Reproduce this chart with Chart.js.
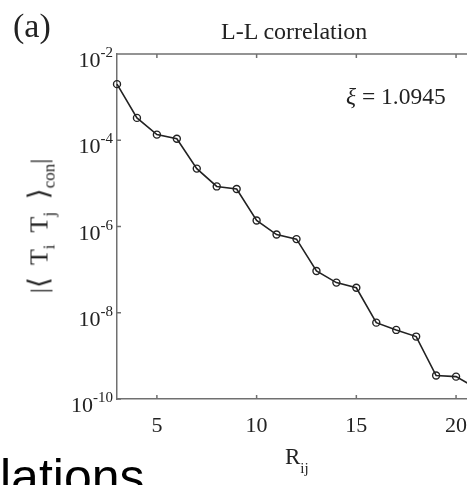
<!DOCTYPE html>
<html>
<head>
<meta charset="utf-8">
<script src="https://cdn.jsdelivr.net/npm/chart.js@4/dist/chart.umd.min.js"></script>
<style>
html,body{margin:0;padding:0;width:467px;height:485px;overflow:hidden;background:#fff;}
#wrap{position:absolute;left:0;top:0;width:490px;height:485px;}
.t{position:absolute;font-family:"Liberation Serif","Times New Roman",serif;color:#222;white-space:nowrap;line-height:1;}
#lbl{left:13px;top:9px;font-size:34px;}
#title{left:221px;top:19px;font-size:24px;}
#xi{left:346px;top:85px;font-size:23.5px;}
#xt{left:285px;top:445px;font-size:23px;}
#xt sub{font-size:15px;vertical-align:-9px;}
#yt{left:41px;top:226px;font-size:26px;transform:translate(-50%,-50%) rotate(-90deg);transform-origin:center;word-spacing:6px;}
#yt sub{font-size:17px;vertical-align:-7px;}
#yt .br{font-family:"DejaVu Serif",serif;font-weight:200;font-size:28px;}
#frag{position:absolute;left:0;top:452px;font-family:"Liberation Sans",Arial,sans-serif;font-size:50px;color:#000;line-height:1;}
</style>
</head>
<body>
<div id="wrap"><canvas id="c" width="490" height="485"></canvas></div>
<div class="t" id="lbl">(a)</div>
<div class="t" id="title">L-L correlation</div>
<div class="t" id="xi"><i>ξ</i> = 1.0945</div>
<div class="t" id="xt">R<sub>ij</sub></div>
<div class="t" id="yt">|<span class="br">⟨</span> T<sub>i</sub> T<sub>j</sub> <span class="br">⟩</span><sub>con</sub>|</div>
<div id="frag">lations</div>
<script>
const distances = [3,4,5,6,7,8,9,10,11,12,13,14,15,16,17,18,19,20,21];
const correlation = [2.0e-3,3.3e-4,1.35e-4,1.08e-4,2.2e-5,8.5e-6,7.4e-6,1.38e-6,6.5e-7,5.1e-7,9.3e-8,5.0e-8,3.8e-8,5.9e-9,4.0e-9,2.8e-9,3.5e-10,3.3e-10,1.8e-10];
const xTicks = [5,10,15,20];
const yTicks = [1e-10,1e-8,1e-6,1e-4,1e-2];

const axisColor = '#707070';
const textColor = '#222';

const framePlugin = {
  id:'frame',
  afterDraw(chart){
    const ctx = chart.ctx, a = chart.chartArea;
    const xs = chart.scales.x, ys = chart.scales.y;
    ctx.save();
    ctx.strokeStyle = axisColor; ctx.lineWidth = 1.5;
    ctx.beginPath();
    ctx.moveTo(a.left, a.top); ctx.lineTo(a.right+2, a.top);
    xTicks.forEach(v=>{
      const px = xs.getPixelForValue(v);
      ctx.moveTo(px, a.bottom); ctx.lineTo(px, a.bottom-4);
      ctx.moveTo(px, a.top); ctx.lineTo(px, a.top+4);
    });
    yTicks.forEach(v=>{
      const py = ys.getPixelForValue(v);
      ctx.moveTo(a.left, py); ctx.lineTo(a.left+4, py);
    });
    ctx.stroke();
    ctx.fillStyle = textColor;
    ctx.textBaseline = 'alphabetic';
    yTicks.forEach(v=>{
      const py = ys.getPixelForValue(v);
      const exp = String(Math.round(Math.log10(v)));
      ctx.font = '15px "Liberation Serif", serif';
      const ws = ctx.measureText(exp).width;
      ctx.font = '22px "Liberation Serif", serif';
      const wb = ctx.measureText('10').width;
      const right = 113;
      ctx.fillText('10', right - ws - wb, py + 13);
      ctx.font = '15px "Liberation Serif", serif';
      ctx.fillText(exp, right - ws, py + 3);
    });
    ctx.restore();
  }
};

new Chart(document.getElementById('c'), {
  type:'line',
  data:{
    datasets:[{
      data: distances.map((d,i)=>({x:d, y:correlation[i]})),
      borderColor:'#222',
      borderWidth:1.6,
      pointRadius:3.5,
      pointBorderWidth:1.4,
      pointBackgroundColor:'rgba(255,255,255,0)',
      pointBorderColor:'#222',
      tension:0,
      clip:false
    }]
  },
  options:{
    responsive:false,
    animation:false,
    devicePixelRatio:1,
    layout:{padding:{left:0,top:54,right:14,bottom:0}},
    plugins:{legend:{display:false},tooltip:{enabled:false},title:{display:false}},
    scales:{
      x:{
        type:'linear', min:3, max:21,
        afterBuildTicks(s){ s.ticks = xTicks.map(v=>({value:v})); },
        afterFit(s){ s.height = 86; },
        grid:{display:false, drawTicks:false},
        border:{display:true, color:axisColor, width:1.5},
        ticks:{color:textColor, padding:14, maxRotation:0, autoSkip:false,
               font:{family:'"Liberation Serif", serif', size:22}}
      },
      y:{
        type:'logarithmic', min:1e-10, max:1e-2,
        afterBuildTicks(s){ s.ticks = yTicks.map(v=>({value:v})); },
        afterFit(s){ s.width = 117; },
        grid:{display:false, drawTicks:false},
        border:{display:true, color:axisColor, width:1.5},
        ticks:{display:false}
      }
    }
  },
  plugins:[framePlugin]
});
</script>
</body>
</html>
